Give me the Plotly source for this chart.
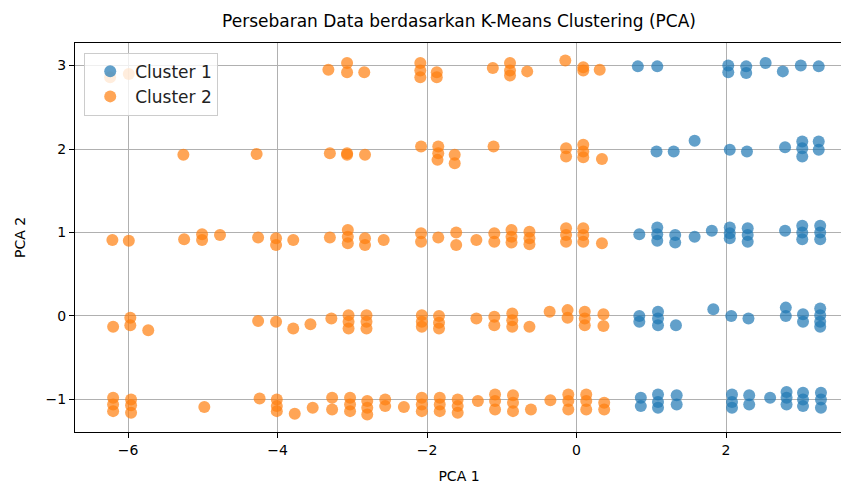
import plotly.graph_objects as go

# Cluster 1 (blue) PCA coordinates
cluster1_x = [0.82, 1.08, 2.03, 2.03, 2.27, 2.27, 2.53, 2.76, 3.0, 3.24,
              1.07, 1.30, 1.58, 2.05, 2.28, 2.79, 3.02, 3.02, 3.02, 3.24, 3.24,
              0.84, 1.08, 1.08, 1.08, 1.32, 1.32, 1.58, 1.81, 2.05, 2.05, 2.05, 2.29, 2.29, 2.29, 2.79,
              3.02, 3.02, 3.02, 3.26, 3.26, 3.26,
              0.84, 0.84, 1.09, 1.09, 1.09, 1.33, 1.83, 2.07, 2.30, 2.80, 2.80, 3.03, 3.03,
              3.26, 3.26, 3.26, 3.26,
              0.86, 0.86, 1.09, 1.09, 1.09, 1.34, 1.34, 2.08, 2.08, 2.08, 2.31, 2.31, 2.59,
              2.81, 2.81, 2.81, 3.03, 3.03, 3.03, 3.27, 3.27, 3.27]
cluster1_y = [2.99, 2.99, 3.0, 2.92, 2.99, 2.91, 3.03, 2.93, 3.0, 2.99,
              1.97, 1.97, 2.10, 1.99, 1.97, 2.02, 2.09, 2.01, 1.91, 2.09, 1.99,
              0.98, 1.06, 0.98, 0.90, 0.97, 0.88, 0.95, 1.02, 1.06, 0.99, 0.93, 1.05, 0.97, 0.89, 1.02,
              1.08, 1.0, 0.92, 1.08, 1.0, 0.92,
              0.0, -0.07, 0.05, -0.03, -0.11, -0.11, 0.08, 0.0, -0.03, 0.10, 0.0, 0.02, -0.07,
              0.09, 0.01, -0.07, -0.13,
              -0.98, -1.08, -0.94, -1.03, -1.10, -0.95, -1.06, -0.94, -1.03, -1.10, -0.95, -1.06, -0.98,
              -0.91, -0.98, -1.06, -0.92, -1.0, -1.08, -0.92, -1.0, -1.10]

# Cluster 2 (orange) PCA coordinates
cluster2_x = [-6.24, -5.99, -3.32, -3.07, -3.07, -2.84, -2.09, -2.09, -2.09, -1.87, -1.87, -1.12,
              -0.89, -0.89, -0.89, -0.66, -0.15, 0.09, 0.09, 0.31,
              -5.26, -4.28, -3.30, -3.07, -3.07, -2.83, -2.08, -1.85, -1.85, -1.86, -1.63, -1.63, -1.11,
              -0.14, -0.14, 0.09, 0.09, 0.09, 0.34,
              -6.21, -5.99, -5.25, -5.01, -5.01, -4.77, -4.26, -4.02, -4.02, -3.79, -3.30, -3.06, -3.06,
              -3.06, -2.83, -2.83, -2.58, -2.08, -2.08, -1.85, -1.61, -1.61, -1.34, -1.10, -1.10,
              -0.87, -0.87, -0.87, -0.63, -0.63, -0.63, -0.14, -0.14, -0.14, 0.09, 0.09, 0.09, 0.34,
              -6.20, -5.97, -5.97, -5.73, -4.26, -4.02, -3.79, -3.56, -3.28, -3.05, -3.05, -3.05,
              -2.81, -2.81, -2.81, -2.07, -2.07, -2.07, -1.84, -1.84, -1.84, -1.34, -1.10, -1.10,
              -0.86, -0.86, -0.86, -0.63, -0.36, -0.12, -0.12, 0.11, 0.11, 0.11, 0.36, 0.36,
              -6.20, -6.20, -6.20, -5.96, -5.96, -5.96, -4.98, -4.24, -4.01, -4.01, -4.01, -3.77,
              -3.53, -3.27, -3.27, -3.03, -3.03, -3.03, -2.80, -2.80, -2.80, -2.56, -2.56, -2.31,
              -2.07, -2.07, -2.07, -1.83, -1.83, -1.83, -1.59, -1.59, -1.59, -1.32, -1.09, -1.09,
              -1.09, -0.85, -0.85, -0.85, -0.61, -0.35, -0.11, -0.11, -0.11, 0.13, 0.13, 0.13,
              0.37, 0.37]
cluster2_y = [2.86, 2.90, 2.95, 3.03, 2.92, 2.92, 3.03, 2.94, 2.86, 2.92, 2.86, 2.97,
              3.03, 2.94, 2.88, 2.93, 3.06, 2.98, 2.94, 2.95,
              1.93, 1.94, 1.95, 1.93, 1.95, 1.93, 2.03, 2.03, 1.95, 1.87, 1.93, 1.83, 2.03,
              2.01, 1.91, 2.05, 1.97, 1.90, 1.88,
              0.91, 0.90, 0.92, 0.98, 0.91, 0.97, 0.94, 0.93, 0.85, 0.91, 0.94, 1.03, 0.95,
              0.87, 0.93, 0.85, 0.91, 0.99, 0.89, 0.94, 1.0, 0.85, 0.91, 0.99, 0.89,
              1.03, 0.95, 0.88, 1.01, 0.93, 0.86, 1.05, 0.97, 0.89, 1.05, 0.97, 0.89, 0.87,
              -0.13, -0.02, -0.11, -0.17, -0.06, -0.07, -0.15, -0.10, -0.03, 0.01, -0.07, -0.15,
              0.01, -0.07, -0.15, 0.01, -0.07, -0.13, 0.0, -0.08, -0.15, -0.03, -0.01, -0.11,
              0.03, -0.05, -0.13, -0.13, 0.05, 0.07, -0.02, 0.05, -0.03, -0.11, 0.02, -0.12,
              -0.98, -1.06, -1.14, -1.0, -1.07, -1.16, -1.09, -0.99, -1.0, -1.08, -1.14, -1.17,
              -1.10, -0.98, -1.12, -0.98, -1.06, -1.14, -1.02, -1.10, -1.18, -1.0, -1.08, -1.09,
              -0.98, -1.06, -1.14, -0.98, -1.06, -1.14, -1.0, -1.08, -1.16, -1.02, -0.94, -1.02,
              -1.12, -0.95, -1.04, -1.14, -1.12, -1.01, -0.94, -1.02, -1.12, -0.94, -1.02, -1.12,
              -1.04, -1.12]

x_ticks = [-6, -4, -2, 0, 2]
y_ticks = [-1, 0, 1, 2, 3]

font_family = "DejaVu Sans, Arial, sans-serif"

# page body has an 8px margin, so the figure is sized/offset to compensate
W, H = 841, 479
ML, MR, MT, MB = 67, 6, 35, 55

fig = go.Figure()
fig.add_trace(go.Scatter(
    x=cluster1_x, y=cluster1_y, mode="markers", name="Cluster 1",
    marker=dict(color="#1f77b4", size=12, opacity=0.7, line=dict(width=0)),
))
fig.add_trace(go.Scatter(
    x=cluster2_x, y=cluster2_y, mode="markers", name="Cluster 2",
    marker=dict(color="#ff7f0e", size=12, opacity=0.7, line=dict(width=0)),
))

axis_common = dict(
    showgrid=True, gridcolor="#b0b0b0", gridwidth=1,
    zeroline=False, showline=True, linecolor="black", linewidth=1, mirror=True,
    ticks="outside", ticklen=5, tickcolor="black", tickwidth=1,
    tickfont=dict(size=14, color="black", family=font_family),
    automargin=False,
)

plot_center_x = (ML + (W - MR)) / 2 / W

fig.update_layout(
    width=W, height=H,
    margin=dict(l=ML, r=MR, t=MT, b=MB),
    paper_bgcolor="white", plot_bgcolor="white",
    font=dict(family=font_family, color="black"),
    title=dict(text="Persebaran Data berdasarkan K-Means Clustering (PCA)",
               x=plot_center_x, xanchor="center", y=1 - 13 / H, yanchor="middle",
               font=dict(size=17, color="black", family=font_family)),
    xaxis=dict(range=[-6.71, 3.565], tickvals=x_ticks,
               title=dict(text="PCA 1", font=dict(size=14), standoff=14), **axis_common),
    yaxis=dict(range=[-1.39, 3.27], tickvals=y_ticks,
               title=dict(text="PCA 2", font=dict(size=14), standoff=16), **axis_common),
    legend=dict(x=0.012, y=0.975, xanchor="left", yanchor="top",
                bgcolor="rgba(255,255,255,0.8)", bordercolor="#cccccc", borderwidth=1,
                font=dict(size=17, color="#222222", family=font_family),
                itemsizing="constant", itemwidth=40, tracegroupgap=0),
    showlegend=True,
)

fig.write_html("out.html")
